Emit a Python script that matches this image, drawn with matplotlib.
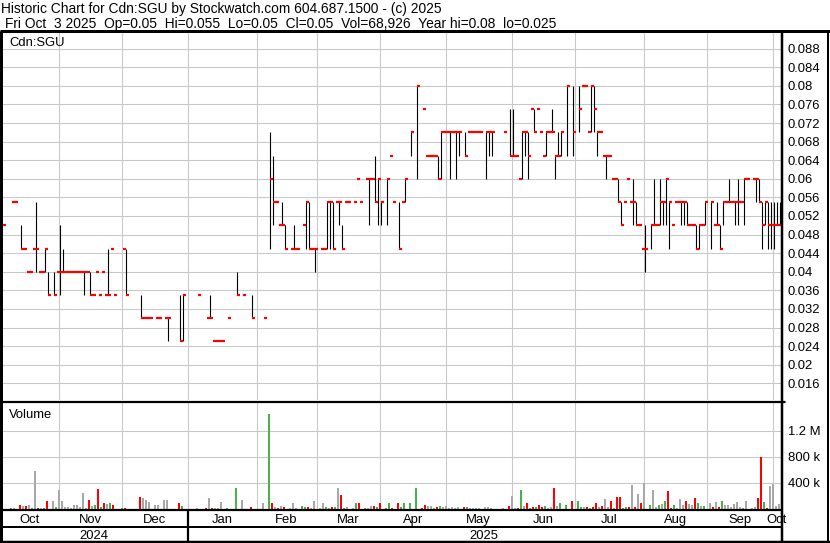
import matplotlib
matplotlib.use("Agg")
import matplotlib.pyplot as plt
import matplotlib.transforms as mtransforms
import numpy as np
import pandas as pd

plt.rcParams["font.family"] = ["Liberation Sans", "DejaVu Sans"]

# ---------------- data ----------------
title_line1 = "Historic Chart for Cdn:SGU by Stockwatch.com 604.687.1500 - (c) 2025"
title_line2 = "Fri Oct  3 2025  Op=0.05  Hi=0.055  Lo=0.05  Cl=0.05  Vol=68,926  Year hi=0.08  lo=0.025"
symbol = "Cdn:SGU"
volume_title = "Volume"
first_day, last_day = "2024-10-04", "2025-10-03"
month_labels = ["Oct", "Nov", "Dec", "Jan", "Feb", "Mar", "Apr", "May", "Jun",
                "Jul", "Aug", "Sep", "Oct"]
year_labels = ["2024", "2025"]
price_ticks = [0.016, 0.02, 0.024, 0.028, 0.032, 0.036, 0.04, 0.044, 0.048,
               0.052, 0.056, 0.06, 0.064, 0.068, 0.072, 0.076, 0.08, 0.084, 0.088]
volume_ticks = [400000, 800000, 1200000]
volume_tick_labels = ["400 k", "800 k", "1.2 M"]

# trading-day slot index (one slot per weekday since 2024-10-04)
day = [0, 3, 4, 6, 7, 8, 9, 10, 11, 12,
       13, 14, 15, 17, 18, 19, 20, 21, 22, 23,
       24, 25, 26, 27, 28, 29, 30, 31, 32, 33,
       34, 35, 36, 37, 40, 41, 46, 47, 48, 49,
       51, 52, 54, 55, 59, 60, 65, 68, 69, 70,
       71, 72, 73, 75, 78, 80, 83, 87, 89, 90,
       91, 92, 93, 94, 96, 97, 98, 100, 101, 102,
       103, 104, 106, 107, 108, 109, 110, 111, 112, 113,
       114, 115, 117, 118, 119, 121, 122, 123, 124, 125,
       126, 128, 129, 130, 132, 133, 134, 136, 138, 140,
       141, 142, 143, 144, 145, 146, 147, 148, 149, 150,
       151, 152, 154, 155, 156, 157, 158, 159, 161, 162,
       163, 167, 169, 170, 171, 172, 173, 174, 175, 176,
       177, 178, 179, 180, 181, 182, 183, 184, 185, 186,
       188, 190, 192, 193, 194, 195, 196, 197, 198, 199,
       200, 201, 202, 203, 204, 205, 206, 207, 208, 209,
       210, 211, 212, 213, 214, 216, 217, 218, 219, 220,
       221, 222, 223, 224, 225, 226, 227, 228, 229, 230,
       231, 232, 233, 234, 236, 237, 238, 239, 240, 241,
       242, 243, 244, 245, 246, 247, 248, 250, 251, 252,
       253, 254, 255, 256, 257, 258, 259]

close = [.05, .055, .055, .045, .045, .04, .04, .045, .045, .04,
         .04, .045, .035, .035, .04, .04, .04, .04, .04, .04,
         .04, .04, .04, .04, .04, .035, .035, .04, .035, .04,
         .035, .035, .045, .035, .045, .035, .03, .03, .03, .03,
         .03, .03, .03, .03, .025, .035, .035, .03, .03, .025,
         .025, .025, .025, .03, .035, .035, .03, .03, .06, .055,
         .055, .05, .05, .045, .045, .045, .045, .05, .055, .045,
         .045, .045, .045, .045, .055, .055, .045, .055, .055, .045,
         .055, .055, .055, .06, .055, .06, .06, .06, .055, .06,
         .055, .06, .065, .055, .045, .055, .06, .07, .08, .075,
         .065, .065, .065, .065, .06, .07, .07, .07, .07, .07,
         .07, .07, .065, .07, .07, .07, .07, .07, .07, .07,
         .07, .07, .065, .065, .065, .06, .07, .07, .065, .075,
         .07, .075, .07, .065, .07, .07, .07, .065, .065, .07,
         .08, .07, .075, .08, .08, .07, .08, .075, .07, .07,
         .065, .065, .065, .06, .06, .055, .05, .055, .06, .055,
         .055, .05, .05, .045, .045, .05, .05, .05, .055, .055,
         .06, .055, .05, .055, .055, .055, .055, .05, .05, .05,
         .045, .05, .05, .055, .055, .05, .05, .045, .055, .055,
         .055, .055, .055, .055, .055, .06, .06, .06, .06, .055,
         .05, .055, .05, .05, .05, .05, .05]

high = [.05, .055, .055, .05, .045, .04, .04, .045, .055, .04,
        .04, .045, .04, .04, .04, .05, .045, .04, .04, .04,
        .04, .04, .04, .04, .04, .04, .035, .04, .035, .04,
        .035, .045, .045, .035, .045, .045, .035, .03, .03, .03,
        .03, .03, .03, .03, .035, .035, .035, .03, .035, .025,
        .025, .025, .025, .03, .04, .035, .035, .03, .07, .065,
        .055, .05, .055, .05, .045, .05, .045, .05, .055, .055,
        .045, .045, .045, .045, .055, .055, .055, .055, .055, .05,
        .055, .055, .055, .06, .055, .06, .06, .06, .065, .06,
        .055, .06, .065, .055, .055, .055, .06, .07, .08, .075,
        .065, .065, .065, .065, .065, .07, .07, .07, .07, .07,
        .07, .07, .07, .07, .07, .07, .07, .07, .07, .07,
        .07, .07, .075, .075, .065, .06, .07, .07, .07, .075,
        .075, .075, .07, .065, .07, .07, .075, .065, .07, .07,
        .08, .08, .08, .08, .08, .07, .08, .08, .07, .07,
        .065, .065, .065, .06, .06, .06, .055, .055, .06, .055,
        .06, .055, .05, .045, .05, .05, .06, .05, .06, .055,
        .06, .055, .05, .055, .055, .055, .055, .055, .05, .05,
        .05, .05, .05, .055, .055, .05, .055, .05, .055, .055,
        .06, .055, .055, .06, .055, .06, .06, .06, .06, .06,
        .055, .055, .055, .055, .055, .055, .055]

low = [.05, .055, .055, .045, .045, .04, .04, .045, .04, .04,
       .04, .04, .035, .035, .04, .035, .04, .04, .04, .04,
       .04, .04, .04, .035, .04, .035, .035, .04, .035, .04,
       .035, .035, .045, .035, .045, .035, .03, .03, .03, .03,
       .03, .03, .03, .025, .025, .025, .035, .03, .03, .025,
       .025, .025, .025, .03, .035, .035, .03, .03, .045, .05,
       .055, .05, .05, .045, .045, .045, .045, .05, .045, .045,
       .045, .04, .045, .045, .045, .045, .045, .055, .05, .045,
       .055, .055, .055, .06, .055, .06, .05, .06, .055, .05,
       .05, .05, .065, .055, .045, .055, .055, .065, .06, .075,
       .065, .065, .065, .065, .06, .06, .07, .07, .06, .07,
       .06, .065, .065, .07, .07, .07, .07, .07, .06, .065,
       .065, .07, .065, .065, .065, .06, .06, .065, .06, .075,
       .07, .075, .07, .065, .065, .07, .07, .06, .065, .065,
       .065, .065, .07, .08, .08, .07, .07, .07, .065, .07,
       .065, .06, .065, .06, .06, .055, .05, .055, .06, .055,
       .05, .05, .05, .045, .04, .045, .05, .05, .05, .05,
       .05, .045, .05, .055, .055, .05, .05, .05, .05, .05,
       .045, .045, .05, .05, .045, .05, .05, .045, .05, .055,
       .055, .055, .05, .05, .055, .05, .06, .06, .055, .055,
       .045, .05, .045, .045, .045, .05, .05]

volume_thousands = [5, 10, 10, 50, 35, 35, 50, 10, 575, 10,
                    10, 10, 110, 110, 20, 280, 120, 25, 25, 12,
                    50, 50, 25, 240, 10, 130, 40, 50, 300, 25,
                    80, 65, 80, 50, 10, 10, 180, 160, 130, 100,
                    50, 50, 130, 130, 85, 35, 10, 10, 160, 10,
                    10, 10, 100, 10, 310, 130, 25, 80, 1460, 90,
                    30, 15, 45, 30, 10, 90, 10, 45, 20, 30,
                    10, 110, 10, 77, 20, 10, 30, 20, 310, 215,
                    10, 30, 10, 77, 77, 10, 10, 45, 45, 20,
                    77, 10, 77, 10, 90, 20, 90, 90, 310, 10,
                    60, 45, 45, 10, 30, 45, 20, 45, 10, 20,
                    10, 30, 30, 20, 10, 10, 10, 10, 20, 30,
                    10, 10, 45, 200, 10, 10, 280, 45, 77, 10,
                    30, 20, 60, 30, 45, 10, 20, 310, 45, 77,
                    60, 110, 120, 20, 20, 30, 10, 30, 90, 30,
                    45, 140, 20, 110, 10, 170, 170, 10, 20, 30,
                    355, 30, 230, 90, 385, 60, 280, 25, 50, 65,
                    110, 265, 10, 50, 10, 140, 50, 110, 65, 50,
                    160, 80, 35, 35, 80, 20, 95, 20, 110, 50,
                    50, 20, 65, 95, 20, 10, 110, 10, 20, 160,
                    790, 95, 10, 345, 375, 35, 65]

# ---------------- layout ----------------
W, H, DPI = 830, 543, 100
PANEL_R = 781           # right edge of plotting column (px)
FS = 9.4
FS_TITLE = 9.9

def fy(py):
    return 1 - py / H

fig = plt.figure(figsize=(W / DPI, H / DPI), dpi=DPI)
fig.patch.set_facecolor("white")

dates = pd.bdate_range(first_day, last_day)
n_slots = len(dates)
month_start = [i for i in range(1, n_slots) if dates[i].month != dates[i - 1].month]
bounds = [i - 0.8 for i in month_start]
x0, x1 = -1 / 3, n_slots - 1

ax_p = fig.add_axes([0, fy(400), PANEL_R / W, (400 - 32) / H])
ax_v = fig.add_axes([0, fy(508.5), PANEL_R / W, (508.5 - 403) / H])

d = np.array(day, dtype=float)
c = np.array(close)
hi = np.array(high)
lo = np.array(low)
vol = np.array(volume_thousands) * 1000.0

grid_kw = dict(color="#c8c8c8", lw=0.75)
for ax in (ax_p, ax_v):
    ax.set_xlim(x0, x1)
    ax.set_xticks(bounds)
    ax.grid(True, **grid_kw)
    ax.set_axisbelow(True)
    for s in ax.spines.values():
        s.set_visible(False)
    ax.tick_params(axis="x", length=0, labelbottom=False)
    ax.yaxis.tick_right()
    ax.tick_params(axis="y", length=0, pad=5.0, labelsize=FS)

# price panel
ax_p.set_ylim(0.0124, 0.0916)
ax_p.set_yticks(price_ticks)
ax_p.set_yticklabels([f"{v:g}" for v in price_ticks])
rng = hi > lo
ax_p.vlines(d[rng] + 0.5, lo[rng], hi[rng], color="black", lw=0.8, zorder=3)
ax_p.hlines(c, d + 0.5, d + 1.5, color="#ff0000", lw=1.6, zorder=4,
            capstyle="butt")

# volume panel
ax_v.set_ylim(0, (508.5 - 403) / 26 * 400000)
ax_v.set_yticks(volume_ticks)
ax_v.set_yticklabels(volume_tick_labels)
prev = np.concatenate([[c[0]], c[:-1]])
colors = np.where(c > prev + 1e-9, "#4cb04c",
                  np.where(c < prev - 1e-9, "#ff0000", "#a8a8a8"))
ax_v.bar(d, vol, width=0.67, align="edge", color=colors, zorder=3, lw=0)

# overlay in pixel coordinates
ov = fig.add_axes([0, 0, 1, 1], zorder=10)
ov.set_xlim(0, W)
ov.set_ylim(H, 0)
ov.axis("off")
ov.patch.set_alpha(0)

def line(xs, ys, px=1.0, **kw):
    ov.plot(xs, ys, color="black", lw=px * 0.72, solid_capstyle="butt", **kw)

line([0, W], [31, 31], 3)
line([0, W], [541.8, 541.8], 2.5)
line([1, 1], [31, 543], 3)
line([782, 782], [31, 543], 2.5)
line([828.3, 828.3], [31, 543], 2)
line([0, PANEL_R + 4], [400.5, 400.5], 1.2)
line([0, PANEL_R + 4], [402.3, 402.3], 1.2)
line([0, PANEL_R], [509.6, 509.6], 2.2)
line([0, PANEL_R], [526.6, 526.6], 2)

blend = mtransforms.blended_transform_factory(ax_p.transData, ov.transData)
jan_b = bounds[2]
ov.plot([jan_b, jan_b], [509, 542], transform=blend, color="black",
        lw=1.6, solid_capstyle="butt")

ov.text(1, 13.3, title_line1, fontsize=FS_TITLE, va="baseline", ha="left")
ov.text(4.5, 27.7, title_line2, fontsize=FS_TITLE, va="baseline", ha="left")
ov.text(9.3, 45.7, symbol, fontsize=FS, va="baseline", ha="left")
ov.text(9.3, 418.3, volume_title, fontsize=FS, va="baseline", ha="left")

edges = [x0] + bounds + [x1]
for k, lab in enumerate(month_labels):
    ov.text((edges[k] + edges[k + 1]) / 2, 523, lab, transform=blend,
            fontsize=FS, ha="center", va="baseline")
year_edges = [x0, jan_b, x1]
for k, lab in enumerate(year_labels):
    ov.text((year_edges[k] + year_edges[k + 1]) / 2, 539.3, lab, transform=blend,
            fontsize=FS, ha="center", va="baseline")

fig.savefig("out.png", dpi=DPI, facecolor="white")
